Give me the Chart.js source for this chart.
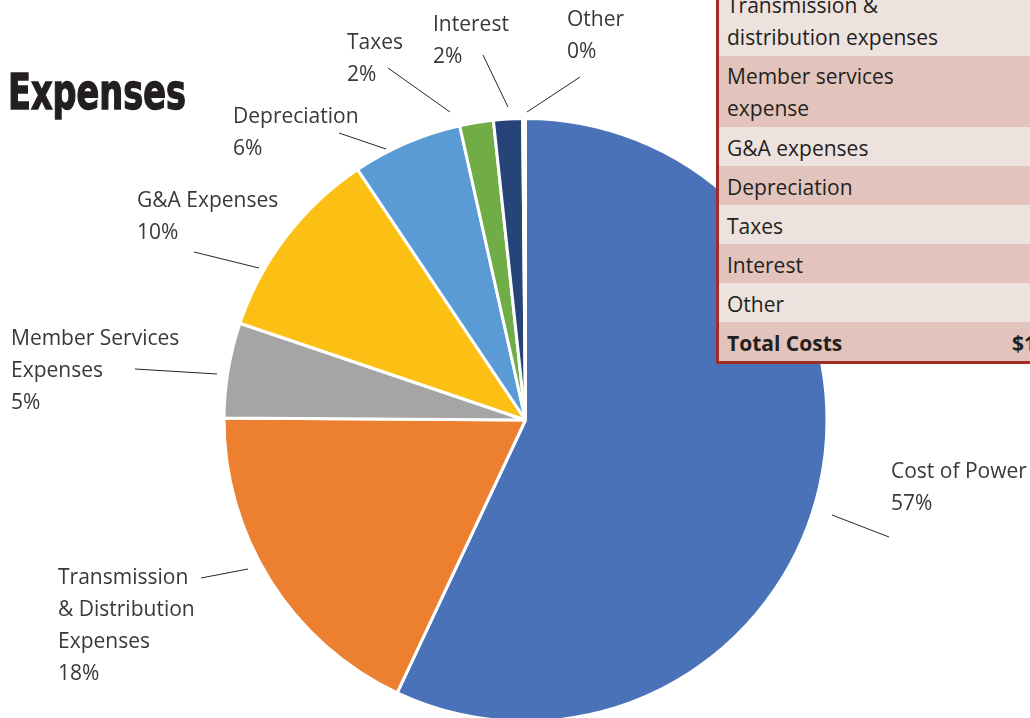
<!DOCTYPE html>
<html>
<head>
<meta charset="utf-8">
<script src="https://cdn.jsdelivr.net/npm/chart.js@4/dist/chart.umd.min.js"></script>
<style>
  html, body { margin: 0; padding: 0; width: 1030px; height: 718px; overflow: hidden; background: #fff; }
  #wrap { position: absolute; left: 0; top: 0; width: 1030px; height: 740px; }
  #title {
    position: absolute; left: 8px; top: 63px;
    font-family: "Liberation Sans Narrow", "DejaVu Sans Condensed", sans-serif;
    font-weight: bold; font-size: 50px; line-height: 58px; color: #231f20;
    -webkit-text-stroke: 1.4px #231f20;
    transform-origin: left top; white-space: nowrap; display: inline-block;
  }
  #tbl {
    position: absolute; left: 716px; top: -15px; width: 420px;
    border-left: 3px solid #a02d28; border-bottom: 3px solid #a02d28;
    font-family: "Open Sans", sans-serif; font-size: 21px; color: #231f20;
  }
  .row { position: relative; box-sizing: border-box; padding-left: 8px; line-height: 32px; white-space: nowrap; }
  .single { height: 39px; padding-top: 4.5px; }
  .double { height: 71px; padding-top: 3.5px; }
  .light { background: #ede2de; }
  .dark { background: #e2c4bc; }
  .bold { font-weight: bold; }
  .val { position: absolute; left: 293px; top: 4.5px; }
</style>
</head>
<body>
<div id="wrap"><canvas id="c" width="1030" height="740"></canvas></div>
<div id="title">Expenses</div>
<div id="tbl"></div>
<script>
// ---- data ----
const categories = ["Cost of Power", "Transmission & Distribution Expenses", "Member Services Expenses", "G&A Expenses", "Depreciation", "Taxes", "Interest", "Other"];
const values = [57.0, 18.1, 5.1, 10.4, 5.9, 1.8, 1.55, 0.15];
const labelLines = [["Cost of Power"], ["Transmission", "& Distribution", "Expenses"], ["Member Services", "Expenses"], ["G&A Expenses"], ["Depreciation"], ["Taxes"], ["Interest"], ["Other"]];
const colors = ["#4a72b8", "#ed7f31", "#a5a5a5", "#fbc013", "#5b9bd5", "#70ad47", "#264478", "#9e480e"];
const tableRows = [["Transmission &", "distribution expenses"], ["Member services", "expense"], ["G&A expenses"], ["Depreciation"], ["Taxes"], ["Interest"], ["Other"], ["Total Costs"]];
const totalValueText = "$1";

// ---- label layout (offsets from pie centre, px) ----
const labelLayout = [
  { x: 365.5, y: 58,   line: [306.5, 95, 363.5, 117] },
  { x: -467.5, y: 164, line: [-324.5, 158, -277.5, 149] },
  { x: -514.5, y: -75, line: [-390.5, -51, -308.5, -46] },
  { x: -388.5, y: -213, line: [-331.5, -168, -266.5, -152] },
  { x: -292.5, y: -297, line: [-186.5, -287, -139.5, -271] },
  { x: -178.5, y: -371, line: [-137.5, -352, -75.5, -308] },
  { x: -92.5, y: -389, line: [-42.5, -365, -17.5, -313] },
  { x: 41.5, y: -394, line: [54.5, -343, 1.5, -308] }
];

// ---- title: fit to condensed width ----
const title = document.getElementById('title');
const tw = title.getBoundingClientRect().width;
title.style.transform = 'scaleX(' + (178 / tw) + ')';

// ---- table ----
const tbl = document.getElementById('tbl');
tableRows.forEach((r, i) => {
  const d = document.createElement('div');
  d.className = 'row ' + (r.length > 1 ? 'double ' : 'single ') + (i % 2 === 0 ? 'light' : 'dark') + (i === tableRows.length - 1 ? ' bold' : '');
  d.innerHTML = r.map(s => s.replace(/&/g, '&amp;')).join('<br>');
  if (i === tableRows.length - 1) {
    const v = document.createElement('span');
    v.className = 'val';
    v.textContent = totalValueText;
    d.appendChild(v);
  }
  tbl.appendChild(d);
});

// ---- labels plugin ----
const sliceLabels = {
  id: 'sliceLabels',
  afterDatasetsDraw(chart) {
    const ctx = chart.ctx;
    const meta = chart.getDatasetMeta(0);
    const data = chart.data.datasets[0].data;
    const total = data.reduce((a, b) => a + b, 0);
    meta.data.forEach((arc, i) => {
      const L = labelLayout[i];
      const cx = arc.x, cy = arc.y;
      ctx.save();
      ctx.strokeStyle = '#262626';
      ctx.lineWidth = 1;
      ctx.beginPath();
      ctx.moveTo(cx + L.line[0], cy + L.line[1]);
      ctx.lineTo(cx + L.line[2], cy + L.line[3]);
      ctx.stroke();
      ctx.font = '21px "Open Sans"';
      ctx.fillStyle = '#383838';
      ctx.textAlign = 'left';
      ctx.textBaseline = 'alphabetic';
      const lines = labelLines[i].concat([Math.round(data[i] / total * 100) + '%']);
      lines.forEach((t, k) => ctx.fillText(t, cx + L.x, cy + L.y + k * 32));
      ctx.restore();
    });
  }
};

new Chart(document.getElementById('c'), {
  type: 'pie',
  data: {
    labels: categories,
    datasets: [{
      data: values,
      backgroundColor: colors,
      borderColor: '#ffffff',
      borderWidth: 3,
      hoverOffset: 0,
      radius: 301.5
    }]
  },
  options: {
    responsive: false,
    animation: false,
    devicePixelRatio: 1,
    layout: { padding: { left: 200, right: 179, top: 110, bottom: 10 } },
    plugins: { legend: { display: false }, tooltip: { enabled: false }, title: { display: false } },
    events: []
  },
  plugins: [sliceLabels]
});
</script>
</body>
</html>
